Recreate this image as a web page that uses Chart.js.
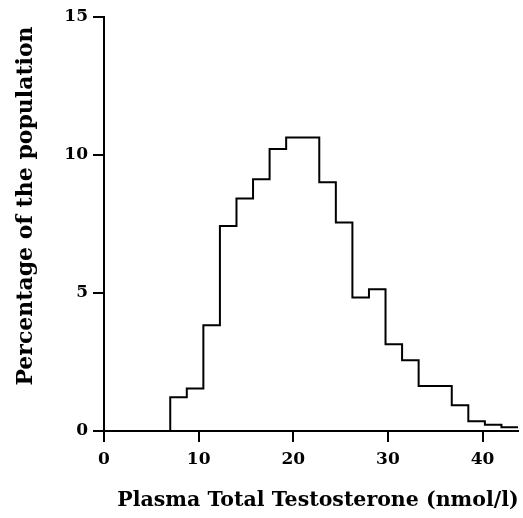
<!DOCTYPE html>
<html>
<head>
<meta charset="utf-8">
<script src="https://cdn.jsdelivr.net/npm/chart.js@4.4.1/dist/chart.umd.min.js"></script>
<style>
  html, body { margin: 0; padding: 0; background: #ffffff; }
  #wrap { width: 523px; height: 518px; position: relative; }
</style>
</head>
<body>
<div id="wrap"><canvas id="c" width="523" height="518"></canvas></div>
<script>
// Bin edges (nmol/l) and percentage of the population per bin
const binEdges = [0, 7, 8.75, 10.5, 12.25, 14, 15.75, 17.5, 19.25, 21, 22.75, 24.5, 26.25, 28, 29.75, 31.5, 33.25, 35, 36.75, 38.5, 40.25, 42, 43.75];
const percentages = [0, 1.22, 1.54, 3.83, 7.43, 8.42, 9.12, 10.22, 10.63, 10.63, 9.01, 7.55, 4.84, 5.14, 3.14, 2.56, 1.63, 1.63, 0.93, 0.35, 0.23, 0.14];
const xTicks = [0, 10, 20, 30, 40];
const yTicks = [0, 5, 10, 15];
const xTitle = 'Plasma Total Testosterone (nmol/l)';
const yTitle = 'Percentage of the population';

const points = binEdges.map((e, i) => ({ x: e, y: percentages[Math.min(i, percentages.length - 1)] }));

const serif = 'DejaVu Serif';

// Axis titles, placed as in the reference figure
const axisTitles = {
  id: 'axisTitles',
  afterDraw(chart) {
    const ctx = chart.ctx;
    ctx.save();
    ctx.fillStyle = '#000000';
    ctx.font = 'bold 20.5px "' + serif + '"';
    ctx.textAlign = 'center';
    ctx.textBaseline = 'alphabetic';
    ctx.fillText(xTitle, 318, 506);
    ctx.font = 'bold 22px "' + serif + '"';
    ctx.translate(32, 206);
    ctx.rotate(-Math.PI / 2);
    ctx.fillText(yTitle, 0, 0);
    ctx.restore();
  }
};

new Chart(document.getElementById('c'), {
  type: 'line',
  data: {
    datasets: [{
      data: points,
      stepped: 'before',
      borderColor: '#000000',
      borderWidth: 2,
      pointRadius: 0,
      fill: false,
      tension: 0
    }]
  },
  options: {
    responsive: false,
    animation: false,
    layout: { padding: { left: 0, top: 17, right: 5, bottom: 0 } },
    plugins: { legend: { display: false }, tooltip: { enabled: false } },
    scales: {
      x: {
        type: 'linear',
        min: 0,
        max: binEdges[binEdges.length - 1],
        afterBuildTicks: s => { s.ticks = xTicks.map(v => ({ value: v })); },
        afterFit: s => { s.height = 87; },
        border: { display: true, color: '#000000', width: 2 },
        grid: { display: true, drawOnChartArea: false, drawTicks: true, tickLength: 11, color: '#000000', lineWidth: 2 },
        ticks: { color: '#000000', padding: 7, maxRotation: 0, font: { family: serif, weight: 'bold', size: 17 } },
        title: { display: false }
      },
      y: {
        type: 'linear',
        min: 0,
        max: 15,
        afterBuildTicks: s => { s.ticks = yTicks.map(v => ({ value: v })); },
        afterFit: s => { s.width = 104; },
        border: { display: true, color: '#000000', width: 2 },
        grid: { display: true, drawOnChartArea: false, drawTicks: true, tickLength: 11, color: '#000000', lineWidth: 2 },
        ticks: { color: '#000000', padding: 5, font: { family: serif, weight: 'bold', size: 17 } },
        title: { display: false }
      }
    }
  },
  plugins: [axisTitles]
});
</script>
</body>
</html>
